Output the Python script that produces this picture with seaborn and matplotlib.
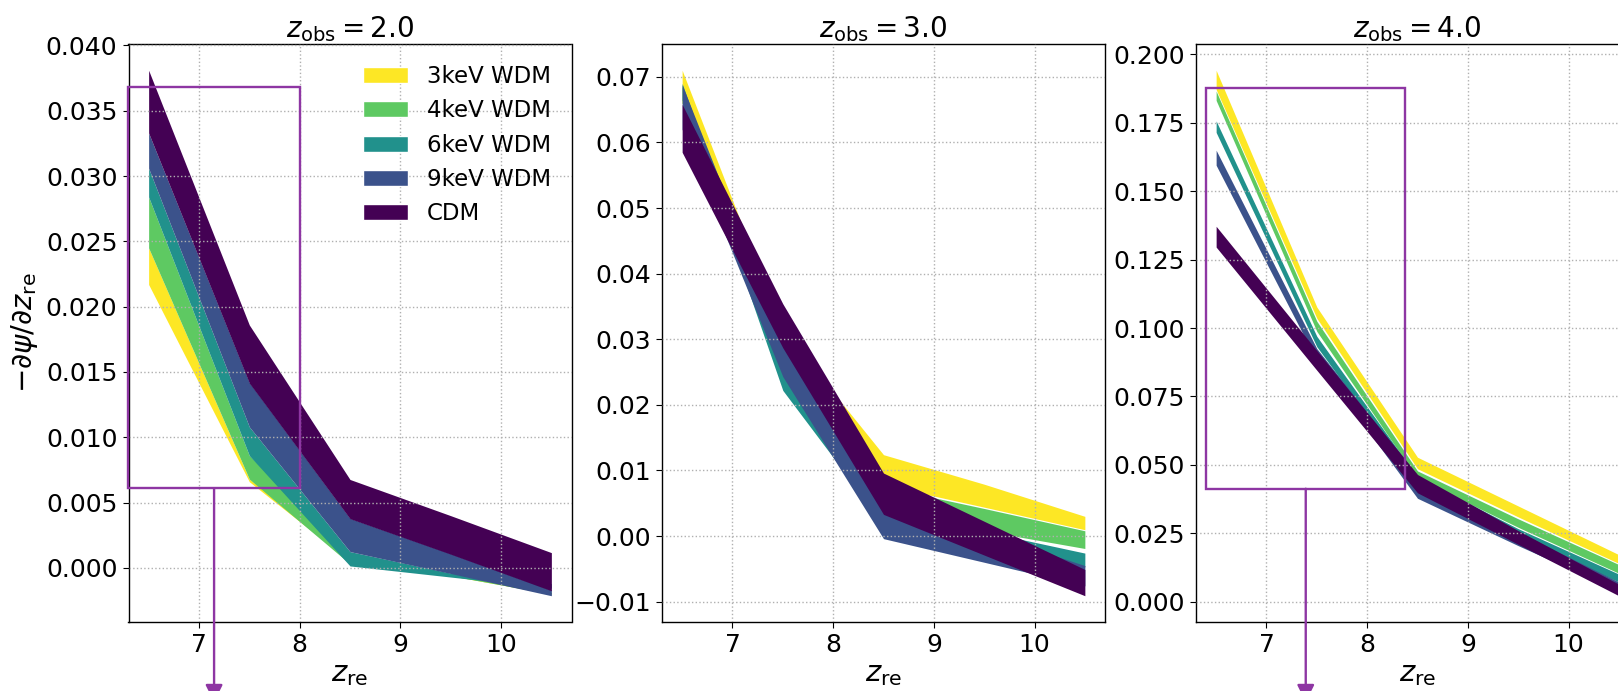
import numpy as np
import pandas as pd
import matplotlib
matplotlib.use("Agg")
import matplotlib.pyplot as plt
import seaborn as sns
from matplotlib.patches import Patch, Rectangle, ConnectionPatch
from matplotlib.transforms import blended_transform_factory

# ---------------- data ----------------
z_re = [6.5, 7.5, 8.5, 9.5, 10.5]
models = ["3keV WDM", "4keV WDM", "6keV WDM", "9keV WDM", "CDM"]
z_obs = [2.0, 3.0, 4.0]

# z_obs = 2.0  (lower / upper edge of each band)
p1_3kev_lo = [0.0217, 0.0066, 0.0005, -0.0006, -0.0020]
p1_3kev_hi = [0.0245, 0.0068, 0.0009, -0.0005, -0.0019]
p1_4kev_lo = [0.0245, 0.0068, 0.0003, -0.0006, -0.0020]
p1_4kev_hi = [0.0284, 0.0086, 0.0010, -0.0005, -0.0019]
p1_6kev_lo = [0.0284, 0.0086, 0.00015, -0.0007, -0.00155]
p1_6kev_hi = [0.0306, 0.0108, 0.00125, -0.0004, -0.0012]
p1_9kev_lo = [0.0306, 0.0108, 0.00125, -0.00043, -0.00213]
p1_9kev_hi = [0.0333, 0.0142, 0.0038, 0.0011, -0.0017]
p1_cdm_lo = [0.0333, 0.01415, 0.00377, 0.00105, -0.00175]
p1_cdm_hi = [0.0381, 0.0186, 0.00677, 0.0040, 0.00117]

# z_obs = 3.0
p2_3kev_lo = [0.0660, 0.0290, 0.0078, 0.0044, 0.00096]
p2_3kev_hi = [0.0710, 0.0314, 0.0124, 0.0079, 0.0030]
p2_4kev_lo = [0.0660, 0.0240, 0.0035, 0.0008, -0.0019]
p2_4kev_hi = [0.0685, 0.0300, 0.0075, 0.0042, 0.0008]
p2_6kev_lo = [0.0665, 0.0222, 0.0018, -0.0012, -0.0047]
p2_6kev_hi = [0.0690, 0.0260, 0.0040, 0.0007, -0.0026]
p2_9kev_lo = [0.0620, 0.0243, -0.0004, -0.0040, -0.0076]
p2_9kev_hi = [0.0688, 0.0300, 0.0060, 0.0005, -0.0045]
p2_cdm_lo = [0.0585, 0.0287, 0.0033, -0.0029, -0.0091]
p2_cdm_hi = [0.0658, 0.0354, 0.0096, 0.00225, -0.0051]

# z_obs = 4.0
p3_3kev_lo = [0.1872, 0.1036, 0.0486, 0.0310, 0.0140]
p3_3kev_hi = [0.1942, 0.1077, 0.0528, 0.0350, 0.0172]
p3_4kev_lo = [0.1832, 0.0988, 0.0450, 0.0272, 0.0104]
p3_4kev_hi = [0.1866, 0.1025, 0.0478, 0.0303, 0.0136]
p3_6kev_lo = [0.1715, 0.0932, 0.0430, 0.0240, 0.0072]
p3_6kev_hi = [0.1757, 0.0970, 0.0455, 0.0267, 0.0101]
p3_9kev_lo = [0.1595, 0.0880, 0.0378, 0.0205, 0.0040]
p3_9kev_hi = [0.1650, 0.0925, 0.0460, 0.0255, 0.0072]
p3_cdm_lo = [0.1296, 0.0846, 0.0398, 0.0210, 0.0022]
p3_cdm_hi = [0.1372, 0.0918, 0.0465, 0.0260, 0.0064]

panels = [
    [(p1_3kev_lo, p1_3kev_hi), (p1_4kev_lo, p1_4kev_hi), (p1_6kev_lo, p1_6kev_hi),
     (p1_9kev_lo, p1_9kev_hi), (p1_cdm_lo, p1_cdm_hi)],
    [(p2_3kev_lo, p2_3kev_hi), (p2_4kev_lo, p2_4kev_hi), (p2_6kev_lo, p2_6kev_hi),
     (p2_9kev_lo, p2_9kev_hi), (p2_cdm_lo, p2_cdm_hi)],
    [(p3_3kev_lo, p3_3kev_hi), (p3_4kev_lo, p3_4kev_hi), (p3_6kev_lo, p3_6kev_hi),
     (p3_9kev_lo, p3_9kev_hi), (p3_cdm_lo, p3_cdm_hi)],
]

# zoom boxes (x0, x1, y0, y1) for panels 1 and 3
zoom_boxes = {0: (6.3, 8.0, 0.0061, 0.0368), 2: (6.4, 8.38, 0.0413, 0.1878)}

# ---------------- style ----------------
sns.set_style("ticks")
FS_TICK = 18
FS_TITLE = 20
FS_LAB = 21
FS_LEG = 16.5
plt.rcParams.update({
    "font.family": ["DejaVu Sans"],
    "font.size": FS_TICK,
    "axes.titlesize": FS_TITLE,
    "axes.labelsize": FS_LAB,
    "xtick.labelsize": FS_TICK,
    "ytick.labelsize": FS_TICK,
    "legend.fontsize": FS_LEG,
    "text.color": "black",
    "axes.labelcolor": "black",
    "xtick.color": "black",
    "ytick.color": "black",
    "axes.edgecolor": "black",
    "axes.linewidth": 1.0,
    "xtick.major.size": 4.5,
    "ytick.major.size": 4.5,
    "mathtext.fontset": "dejavusans",
})

colors = [plt.cm.viridis(v) for v in (1.0, 0.75, 0.5, 0.25, 0.0)]
palette = dict(zip(models, colors))
box_color = "#8e36a3"

W, H = 1618, 691
fig = plt.figure(figsize=(W / 100, H / 100), dpi=100)
lefts = [128.5, 662.0, 1196.0]
ax_w, ax_top, ax_bot = 443.0, 44.0, 622.0

for i, (zo, bands) in enumerate(zip(z_obs, panels)):
    ax = fig.add_axes([lefts[i] / W, (H - ax_bot) / H, ax_w / W, (ax_bot - ax_top) / H])
    rows = []
    for m, (lo, hi) in zip(models, bands):
        for x, a, b in zip(z_re, lo, hi):
            rows.append((m, x, a))
            rows.append((m, x, b))
    df = pd.DataFrame(rows, columns=["model", "z_re", "val"])
    sns.lineplot(data=df, x="z_re", y="val", hue="model", hue_order=models,
                 palette=palette, estimator="mean", errorbar=("pi", 100),
                 err_kws={"alpha": 1.0, "linewidth": 0}, linewidth=0,
                 legend=False, ax=ax)
    ax.set_axisbelow(False)
    ax.grid(True, linestyle=":", color="#b0b0b0", linewidth=1.0)
    ax.set_xticks([7, 8, 9, 10])
    ax.set_title(r"$z_{\rm obs} = %.1f$" % zo, pad=4)
    ax.set_xlabel(r"$z_{\rm re}$", labelpad=2)
    if i == 0:
        ax.set_ylabel(r"$-\partial\psi/\partial z_{\rm re}$")
        handles = [Patch(facecolor=palette[m], label=m) for m in models]
        ax.legend(handles=handles, loc="upper right", frameon=False)
    else:
        ax.set_ylabel("")
    if i in zoom_boxes:
        x0, x1, y0, y1 = zoom_boxes[i]
        ax.add_patch(Rectangle((x0, y0), x1 - x0, y1 - y0, fill=False,
                               edgecolor=box_color, linewidth=1.7,
                               clip_on=False, zorder=6))
        xc = 0.5 * (x0 + x1)
        cp = ConnectionPatch(xyA=(xc, y0), coordsA=ax.transData,
                             xyB=(xc, -0.016),
                             coordsB=blended_transform_factory(ax.transData, fig.transFigure),
                             arrowstyle="-|>", mutation_scale=26,
                             color=box_color, linewidth=1.7, zorder=6)
        fig.add_artist(cp)

fig.savefig("out.png", dpi=100)
